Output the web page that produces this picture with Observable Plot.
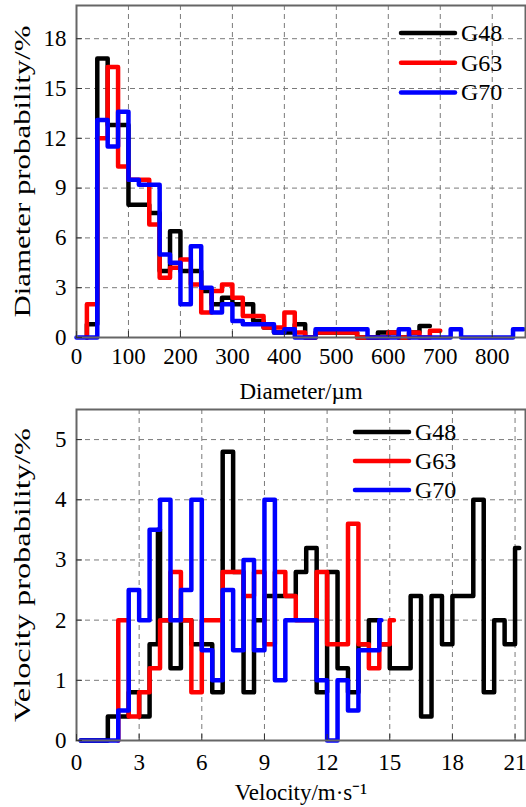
<!DOCTYPE html>
<html><head><meta charset="utf-8">
<script src="https://cdn.jsdelivr.net/npm/d3@7"></script>
<script src="https://cdn.jsdelivr.net/npm/@observablehq/plot@0.6"></script>
<style>
body{margin:0;background:#fff;}
#wrap{position:relative;width:526px;height:807px;font-family:"Liberation Serif","Times New Roman",serif;}
#wrap svg.plot{display:block;}
.leg{position:absolute;left:0;top:0;pointer-events:none;}
</style></head><body><div id="wrap"></div>
<script>
// ---- data ----
const seriesNames = ["G48", "G63", "G70"];
const seriesColors = ["#000000", "#ff0000", "#0000ff"];

// Diameter histogram: left edges of 20 µm bins
const diamBins = d3.range(0, 880, 20);
const diamG48 = [null, 0.8, 16.8, 12.8, 12.8, 8.0, 8.0, 7.5, 4.0, 6.4, 4.0, 4.0, 2.8, 2.0, 2.4, 2.0, 2.0, 1.0, 0.6, 0.3, 0.3, 0.8, 0, 0.3, 0.3, 0.3, 0.3, 0, 0, 0.3, 0.3, 0, 0.3, 0.7];
const diamG63 = [null, 2.0, 12.0, 16.3, 10.3, 9.5, 9.5, 6.8, 3.6, 4.2, 4.7, 3.2, 1.5, 2.8, 3.2, 2.4, 1.3, 1.3, 0.6, 0.6, 1.5, 0.3, 0, 0.3, 0.3, 0.3, 0.3, 0, 0, 0, 0.3, 0, 0.3, 0, 0.4];
const diamG70 = [0, 0, 13.1, 11.5, 13.6, 9.5, 9.2, 9.2, 5.0, 4.5, 2.0, 5.5, 3.0, 1.5, 2.0, 1.0, 0.8, 0.8, 0.8, 0.3, 0.5, 0, 0, 0.5, 0.5, 0.5, 0.5, 0.5, 0, 0, 0, 0.5, 0, 0, 0, 0, 0.5, 0, 0, 0, 0, 0, 0.5];
const diamTicks = [0, 100, 200, 300, 400, 500, 600, 700, 800];
const diamProbTicks = [0, 3, 6, 9, 12, 15, 18];

// Velocity histogram: left edges and values, one pair per series
const velG48X = [0.2, 1.5, 2.0, 2.5, 3.0, 3.5, 3.9, 4.0, 4.5, 5.0, 5.5, 6.0, 6.5, 7.0, 7.5, 8.0, 8.5, 9.0, 9.5, 10.0, 10.5, 11.0, 11.5, 12.0, 12.5, 13.0, 13.5, 14.0, 14.5, 15.0, 15.5, 16.0, 16.5, 17.0, 17.5, 18.0, 18.5, 19.0, 19.5, 20.0, 20.5, 21.0, 21.2];
const velG48Y = [0, 0.4, 0.4, 0.8, 0.4, 1.6, 3.5, 2.0, 1.2, 2.0, 1.6, 1.6, 0.8, 4.8, 2.8, 0.8, 2.0, 2.4, 2.4, 2.4, 2.8, 3.2, 0.8, 2.8, 1.2, 0.8, 1.6, 2.0, 1.6, 1.2, 1.2, 2.4, 0.4, 2.4, 1.6, 2.4, 2.4, 4.0, 0.8, 2.0, 1.6, 3.2, 3.2];
const velG63X = [2.0, 2.0, 2.5, 3.0, 3.5, 4.0, 4.5, 5.0, 5.5, 6.0, 6.5, 7.0, 7.5, 8.0, 8.5, 9.0, 9.5, 10.0, 10.5, 11.0, 11.5, 12.0, 12.5, 13.0, 13.5, 14.0, 14.5, 15.0, 15.2];
const velG63Y = [0, 2.0, 0.4, 0.8, 1.2, 2.0, 2.8, 2.0, 0.8, 2.0, 2.0, 2.8, 2.8, 2.4, 2.8, 1.6, 2.8, 2.4, 2.0, 2.0, 2.8, 1.6, 1.6, 3.6, 1.6, 1.2, 1.6, 2.0, 2.0];
const velG70X = [0.2, 2.0, 2.5, 3.0, 3.5, 4.0, 4.5, 5.0, 5.5, 6.0, 6.5, 7.0, 7.5, 8.0, 8.5, 9.0, 9.5, 10.0, 10.5, 11.0, 11.5, 12.0, 12.5, 13.0, 13.5, 14.0, 14.5, 14.6];
const velG70Y = [0, 0.5, 2.5, 2.0, 3.5, 4.0, 2.0, 2.5, 4.0, 1.5, 1.0, 2.5, 1.5, 3.0, 1.5, 4.0, 1.0, 2.0, 2.0, 2.0, 1.0, 0, 1.0, 0.5, 1.5, 1.5, 2.0, 2.0];
const velTicks = [0, 3, 6, 9, 12, 15, 18, 21];
const velProbTicks = [0, 1, 2, 3, 4, 5];

// ---- build step tables ----
function binsToSteps(edges, values, width) {
  const pts = [];
  let last = -1;
  values.forEach((v, i) => { if (v != null) last = i; });
  let started = false;
  values.forEach((v, i) => {
    if (v == null) return;
    if (!started) { pts.push({x: edges[i], y: 0}); started = true; }
    pts.push({x: edges[i], y: v});
  });
  pts.push({x: edges[last] + width, y: values[last]});
  return pts;
}
function xyToSteps(xs, ys) { return xs.map((x, i) => ({x, y: ys[i]})); }

const diamSeries = [diamG48, diamG63, diamG70].map(v => binsToSteps(diamBins, v, 20));
const velSeries = [xyToSteps(velG48X, velG48Y), xyToSteps(velG63X, velG63Y), xyToSteps(velG70X, velG70Y)];

const FONT = "Liberation Serif, Times New Roman, serif";
const FS = 23;
const grid = {stroke: "#7a7a7a", strokeOpacity: 1, strokeWidth: 1, strokeDasharray: "5,4"};

function panel({series, xDomain, yDomain, xTicks, yTicks, xLabel, yLabel, height, marginTop, marginBottom, xPad, xLabelDy, yLabelLen}) {
  const svg = Plot.plot({
    width: 526, height, marginLeft: 76, marginRight: 1, marginTop, marginBottom,
    style: {fontFamily: FONT, fontSize: FS + "px", color: "#000", background: "transparent", overflow: "visible"},
    x: {domain: xDomain},
    y: {domain: yDomain},
    marks: [
      Plot.gridX(xTicks, grid),
      Plot.gridY(yTicks, grid),
      ...series.map((s, i) => Plot.line(s, {x: "x", y: "y", curve: "step-after", stroke: seriesColors[i], strokeWidth: 4.5, strokeLinejoin: "round", strokeLinecap: "round"})),
      Plot.frame({stroke: "#666", strokeWidth: 2}),
      Plot.axisX(xTicks, {tickSize: -6, tickPadding: xPad, label: null, stroke: "#333", fontSize: FS, tickFormat: d => String(d)}),
      Plot.axisY(yTicks, {tickSize: -6, tickPadding: 16, label: null, stroke: "#333", fontSize: FS, tickFormat: d => String(d)}),
      Plot.text([xLabel], {frameAnchor: "bottom", dy: xLabelDy, lineAnchor: "middle", textAnchor: "middle", fontSize: FS, fill: "#000"}),
      Plot.text([yLabel], {frameAnchor: "left", dx: -54, rotate: -90, lineAnchor: "middle", textAnchor: "middle", fontSize: FS, fill: "#000"})
    ]
  });
  svg.querySelectorAll("text").forEach(t => {
    if (t.textContent === yLabel) {
      t.setAttribute("textLength", yLabelLen);
      t.setAttribute("lengthAdjust", "spacingAndGlyphs");
    }
  });
  return svg;
}

const wrap = document.getElementById("wrap");
const topPanel = panel({series: diamSeries, xDomain: [0, 864], yDomain: [0, 20], xTicks: diamTicks, yTicks: diamProbTicks,
  xLabel: "Diameter/µm", yLabel: "Diameter probability/%", height: 400, marginTop: 5, marginBottom: 63, xPad: 16, xLabelDy: 54, yLabelLen: 292});
const bottomPanel = panel({series: velSeries, xDomain: [0, 21.5], yDomain: [0, 5.5], xTicks: velTicks, yTicks: velProbTicks,
  xLabel: "Velocity/m·s⁻¹", yLabel: "Velocity probability/%", height: 407, marginTop: 9, marginBottom: 67, xPad: 19, xLabelDy: 52, yLabelLen: 294});
wrap.appendChild(topPanel);
wrap.appendChild(bottomPanel);

// ---- legends ----
function legend(x0, y0, step) {
  const ns = "http://www.w3.org/2000/svg";
  const svg = document.createElementNS(ns, "svg");
  svg.setAttribute("class", "leg");
  svg.setAttribute("width", 526); svg.setAttribute("height", 807);
  seriesNames.forEach((name, i) => {
    const y = y0 + i * step;
    const l = document.createElementNS(ns, "line");
    l.setAttribute("x1", x0); l.setAttribute("x2", x0 + 54);
    l.setAttribute("y1", y); l.setAttribute("y2", y);
    l.setAttribute("stroke", seriesColors[i]); l.setAttribute("stroke-width", 4.5);
    l.setAttribute("stroke-linecap", "round");
    svg.appendChild(l);
    const t = document.createElementNS(ns, "text");
    t.setAttribute("x", x0 + 60); t.setAttribute("y", y + 8);
    t.setAttribute("font-family", FONT); t.setAttribute("font-size", 24);
    t.textContent = name;
    svg.appendChild(t);
  });
  wrap.appendChild(svg);
}
legend(401, 33, 29.7);
legend(355, 432, 29);
</script>
</body></html>
